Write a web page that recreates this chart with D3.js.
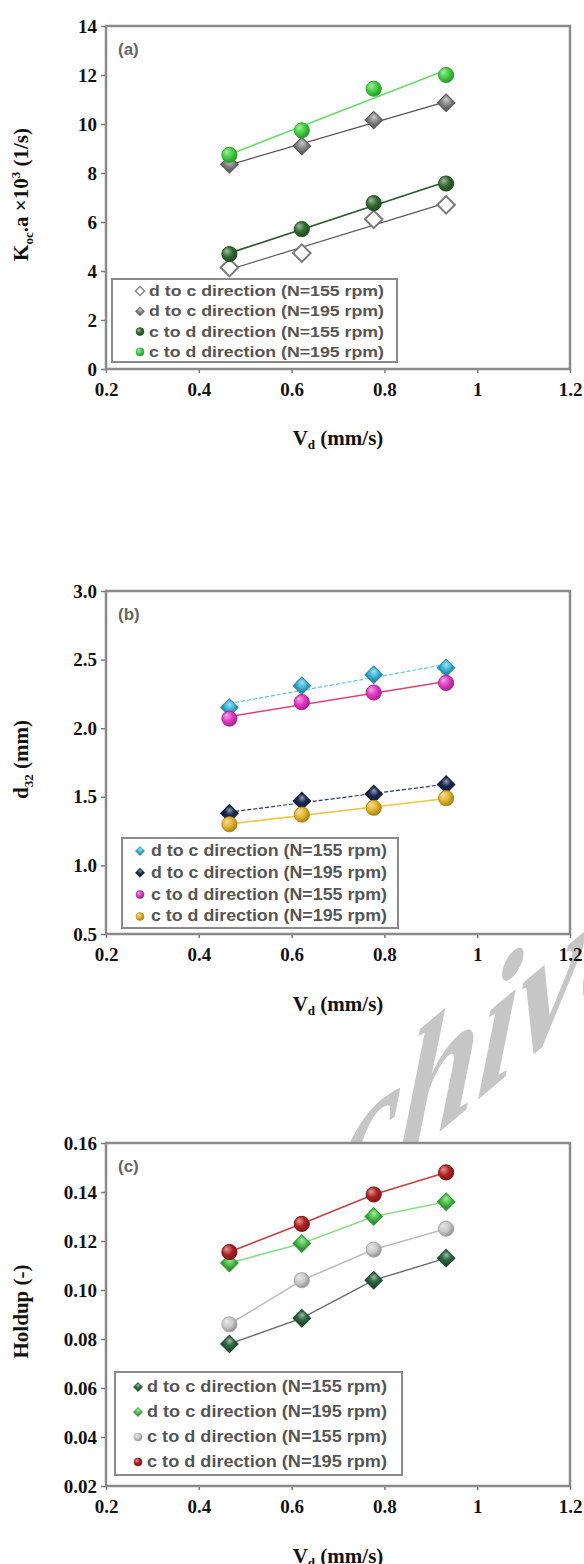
<!DOCTYPE html>
<html>
<head>
<meta charset="utf-8">
<script src="https://cdn.jsdelivr.net/npm/d3@7"></script>
<style>
  body { margin: 0; background: #fff; }
</style>
</head>
<body>
<div id="chart"></div>
<script>
var svgWidth = 584;
var svgHeight = 1564;

// shared x data
var vd = [0.466, 0.622, 0.777, 0.933];
var xTicks = [0.2, 0.4, 0.6, 0.8, 1.0, 1.2];
var xTickLabels = ["0.2", "0.4", "0.6", "0.8", "1", "1.2"];
var seriesNames = [
  "d to c direction (N=155 rpm)",
  "d to c direction (N=195 rpm)",
  "c to d direction (N=155 rpm)",
  "c to d direction (N=195 rpm)"
];

// (a) Koc.a x 10^3 (1/s)
var kaDc155 = [4.14, 4.73, 6.11, 6.70];
var kaDc195 = [8.36, 9.10, 10.16, 10.87];
var kaCd155 = [4.69, 5.71, 6.77, 7.57];
var kaCd195 = [8.74, 9.74, 11.44, 12.00];
var kaTicks = [0, 2, 4, 6, 8, 10, 12, 14];
var kaTickLabels = ["0", "2", "4", "6", "8", "10", "12", "14"];

// (b) d32 (mm)
var d32Dc155 = [2.15, 2.31, 2.39, 2.44];
var d32Dc195 = [1.38, 1.47, 1.52, 1.59];
var d32Cd155 = [2.07, 2.19, 2.26, 2.33];
var d32Cd195 = [1.30, 1.37, 1.42, 1.49];
var d32Ticks = [0.5, 1.0, 1.5, 2.0, 2.5, 3.0];
var d32TickLabels = ["0.5", "1.0", "1.5", "2.0", "2.5", "3.0"];

// (c) Holdup (-)
var hDc155 = [0.078, 0.0885, 0.104, 0.113];
var hDc195 = [0.111, 0.119, 0.130, 0.136];
var hCd155 = [0.086, 0.104, 0.1165, 0.125];
var hCd195 = [0.1155, 0.127, 0.139, 0.148];
var hTicks = [0.02, 0.04, 0.06, 0.08, 0.10, 0.12, 0.14, 0.16];
var hTickLabels = ["0.02", "0.04", "0.06", "0.08", "0.10", "0.12", "0.14", "0.16"];

var plotLeft = 106, plotRight = 570, plotH = 343;

var panels = [
  {
    tag: "(a)", top: 26, domain: [0, 14], ticks: kaTicks, labels: kaTickLabels,
    series: [kaDc155, kaDc195, kaCd155, kaCd195], fit: true,
    styles: [
      {shape: "diamond", fill: "#ffffff", stroke: "#7a7a7a", line: "#5a5a5a", width: 1.2},
      {shape: "diamond", fill: "#8c8c8c", stroke: "#555", line: "#5a4d5a", width: 1.2},
      {shape: "circle", fill: "#2f6a2c", stroke: "#244f22", line: "#2f5a2c", width: 1.6},
      {shape: "circle", fill: "#3dcf3d", stroke: "#2aa82a", line: "#66dd66", width: 1.6}
    ],
    legend: {x: 112, y: 279, w: 285, h: 83, row0: 291, step: 20.3, mx: 140, tx: 149, tw: 235, fs: 15},
    yTitle: [["K", 0], ["oc", 1], [".a \u00d710", 0], ["3", 2], [" (1/s)", 0]],
    titleGap: 70
  },
  {
    tag: "(b)", top: 591, domain: [0.5, 3.0], ticks: d32Ticks, labels: d32TickLabels,
    series: [d32Dc155, d32Dc195, d32Cd155, d32Cd195], fit: true,
    styles: [
      {shape: "diamond", fill: "#3cb9dc", stroke: "#2a8fb0", line: "#5cc6e2", width: 1.2, dash: "4,2"},
      {shape: "diamond", fill: "#1b2a55", stroke: "#101a3a", line: "#2a3a70", width: 1.2, dash: "4,2"},
      {shape: "circle", fill: "#e236c4", stroke: "#b0209a", line: "#e0407a", width: 1.4},
      {shape: "circle", fill: "#e2b32a", stroke: "#b88c10", line: "#f0c648", width: 1.6}
    ],
    legend: {x: 122, y: 838, w: 276, h: 90, row0: 851, step: 21.8, mx: 140, tx: 151, tw: 236, fs: 16},
    yTitle: [["d", 0], ["32", 1], [" (mm)", 0]],
    titleGap: 71
  },
  {
    tag: "(c)", top: 1143, domain: [0.02, 0.16], ticks: hTicks, labels: hTickLabels,
    series: [hDc155, hDc195, hCd155, hCd195], fit: false,
    styles: [
      {shape: "diamond", fill: "#2d6b45", stroke: "#1d4a2e", line: "#6a6a6a", width: 1.4},
      {shape: "diamond", fill: "#4cc44c", stroke: "#2e9a2e", line: "#86e086", width: 1.6},
      {shape: "circle", fill: "#c9c9c9", stroke: "#a8a8a8", line: "#bdbdbd", width: 1.6},
      {shape: "circle", fill: "#b31f1f", stroke: "#7e1010", line: "#c84040", width: 1.6}
    ],
    legend: {x: 115, y: 1372, w: 287, h: 103, row0: 1387, step: 25, mx: 138, tx: 147, tw: 240, fs: 16},
    yTitle: [["Holdup (-)", 0]],
    titleGap: 71
  }
];

var svg = d3.select("#chart")
  .append("svg")
  .attr("width", svgWidth)
  .attr("height", svgHeight)
  .style("font-family", "'Liberation Serif', 'Times New Roman', serif");

svg.append("rect").attr("width", svgWidth).attr("height", svgHeight).attr("fill", "#fff");

// glossy gradients for markers
var defs = svg.append("defs");
panels.forEach(function(p, pi) {
  p.styles.forEach(function(s, si) {
    var g = defs.append("radialGradient")
      .attr("id", "g" + pi + si)
      .attr("cx", "40%").attr("cy", "38%").attr("r", "65%")
      .attr("fx", "32%").attr("fy", "30%");
    g.append("stop").attr("offset", "0%").attr("stop-color", d3.interpolateRgb(s.fill, "#fff")(0.55));
    g.append("stop").attr("offset", "55%").attr("stop-color", s.fill);
    g.append("stop").attr("offset", "100%").attr("stop-color", d3.interpolateRgb(s.fill, "#000")(0.3));
  });
});

// watermark behind the plots
svg.append("text")
  .attr("transform", "translate(332,1222) matrix(0.766,-0.643,-0.087,0.996,0,0)")
  .attr("font-size", 186)
  .attr("font-weight", "bold")
  .attr("font-style", "italic")
  .attr("fill", "#c6c6c6")
  .text("chive");

function symbolPath(shape, size) {
  if (shape === "circle") return d3.symbol(d3.symbolCircle, size)();
  return d3.symbol(d3.symbolSquare, size * 0.9)();
}

function linFit(xs, ys) {
  var mx = d3.mean(xs), my = d3.mean(ys);
  var sxy = d3.sum(xs, function(x, i) { return (x - mx) * (ys[i] - my); });
  var sxx = d3.sum(xs, function(x) { return (x - mx) * (x - mx); });
  var b = sxy / sxx;
  return function(x) { return my + b * (x - mx); };
}

var x = d3.scaleLinear().domain([0.2, 1.2]).range([plotLeft, plotRight]);

panels.forEach(function(p, pi) {
  var bottom = p.top + plotH;
  var y = d3.scaleLinear().domain(p.domain).range([bottom, p.top]);
  var g = svg.append("g");

  // plot area (covers watermark)
  g.append("rect")
    .attr("x", plotLeft).attr("y", p.top)
    .attr("width", plotRight - plotLeft).attr("height", plotH)
    .attr("fill", "#fff");

  // axes
  var leftAxis = d3.axisLeft(y).tickValues(p.ticks)
    .tickFormat(function(d, i) { return p.labels[i]; })
    .tickSize(5).tickPadding(4);
  var bottomAxis = d3.axisBottom(x).tickValues(xTicks)
    .tickFormat(function(d, i) { return xTickLabels[i]; })
    .tickSize(4).tickPadding(10);

  var ga = g.append("g").attr("transform", "translate(" + plotLeft + ",0)").call(leftAxis);
  var gb = g.append("g").attr("transform", "translate(0," + bottom + ")").call(bottomAxis);
  [ga, gb].forEach(function(a) {
    a.select(".domain").remove();
    a.selectAll("line").attr("stroke", "#7a7a7a").attr("stroke-width", 1.5);
    a.selectAll("text")
      .attr("font-family", "'Liberation Serif', 'Times New Roman', serif")
      .attr("font-size", 19).attr("font-weight", "bold").attr("fill", "#111");
  });

  // frame
  g.append("rect")
    .attr("x", plotLeft).attr("y", p.top)
    .attr("width", plotRight - plotLeft).attr("height", plotH)
    .attr("fill", "none").attr("stroke", "#8a8a8a").attr("stroke-width", 2.5);

  // panel tag
  g.append("text")
    .attr("x", plotLeft + 12).attr("y", p.top + 29)
    .attr("font-family", "'Liberation Sans', Arial, sans-serif")
    .attr("font-size", 17).attr("font-weight", "bold").attr("fill", "#666")
    .text(p.tag);

  // lines
  p.series.forEach(function(vals, si) {
    var s = p.styles[si];
    var pts;
    if (p.fit) {
      var f = linFit(vd, vals);
      pts = [[vd[0], f(vd[0])], [vd[vd.length - 1], f(vd[vd.length - 1])]];
    } else {
      pts = vd.map(function(v, i) { return [v, vals[i]]; });
    }
    g.append("path")
      .attr("d", d3.line().x(function(d) { return x(d[0]); }).y(function(d) { return y(d[1]); })(pts))
      .attr("fill", "none")
      .attr("stroke", s.line)
      .attr("stroke-width", s.width)
      .attr("stroke-dasharray", s.dash || null);
  });

  // markers
  p.series.forEach(function(vals, si) {
    var s = p.styles[si];
    g.selectAll(null)
      .data(vals)
      .enter()
      .append("path")
      .attr("d", symbolPath(s.shape, s.shape === "circle" ? 180 : 170))
      .attr("transform", function(d, i) {
        return "translate(" + x(vd[i]) + "," + y(d) + ")" + (s.shape === "diamond" ? " rotate(45)" : "");
      })
      .attr("fill", s.fill === "#ffffff" ? "#fff" : "url(#g" + pi + si + ")")
      .attr("stroke", s.stroke)
      .attr("stroke-width", s.fill === "#ffffff" ? 2 : 1);
  });

  // legend
  var L = p.legend;
  g.append("rect")
    .attr("x", L.x).attr("y", L.y).attr("width", L.w).attr("height", L.h)
    .attr("fill", "#fff").attr("stroke", "#8a8a8a").attr("stroke-width", 2);
  seriesNames.forEach(function(name, si) {
    var s = p.styles[si];
    var cy = L.row0 + si * L.step;
    g.append("path")
      .attr("d", symbolPath(s.shape, s.shape === "circle" ? 50 : 46))
      .attr("transform", "translate(" + L.mx + "," + cy + ")" + (s.shape === "diamond" ? " rotate(45)" : ""))
      .attr("fill", s.fill === "#ffffff" ? "#fff" : "url(#g" + pi + si + ")")
      .attr("stroke", s.fill === "#ffffff" ? "#888" : s.stroke)
      .attr("stroke-width", s.fill === "#ffffff" ? 1.5 : 0.6);
    g.append("text")
      .attr("x", L.tx).attr("y", cy + 5)
      .attr("font-family", "'Liberation Sans', Arial, sans-serif")
      .attr("font-size", L.fs).attr("font-weight", "bold").attr("fill", "#555")
      .attr("textLength", L.tw).attr("lengthAdjust", "spacingAndGlyphs")
      .text(name);
  });

  // y-axis title
  var yt = g.append("text")
    .attr("transform", "translate(28," + (p.top + plotH / 2 - 3) + ") rotate(-90)")
    .attr("text-anchor", "middle")
    .attr("font-size", 21).attr("font-weight", "bold").attr("fill", "#111");
  var shift = 0;
  p.yTitle.forEach(function(part) {
    var target = part[1] === 1 ? 5 : part[1] === 2 ? -8 : 0;
    yt.append("tspan")
      .attr("dy", target - shift)
      .attr("font-size", part[1] ? 13 : 21)
      .text(part[0]);
    shift = target;
  });

  // x-axis title
  var xt = g.append("text")
    .attr("x", (plotLeft + plotRight) / 2)
    .attr("y", bottom + p.titleGap + 6)
    .attr("text-anchor", "middle")
    .attr("font-size", 21).attr("font-weight", "bold").attr("fill", "#111");
  xt.append("tspan").text("V");
  xt.append("tspan").attr("dy", 4).attr("font-size", 13).text("d");
  xt.append("tspan").attr("dy", -4).text(" (mm/s)");
});
</script>
</body>
</html>
